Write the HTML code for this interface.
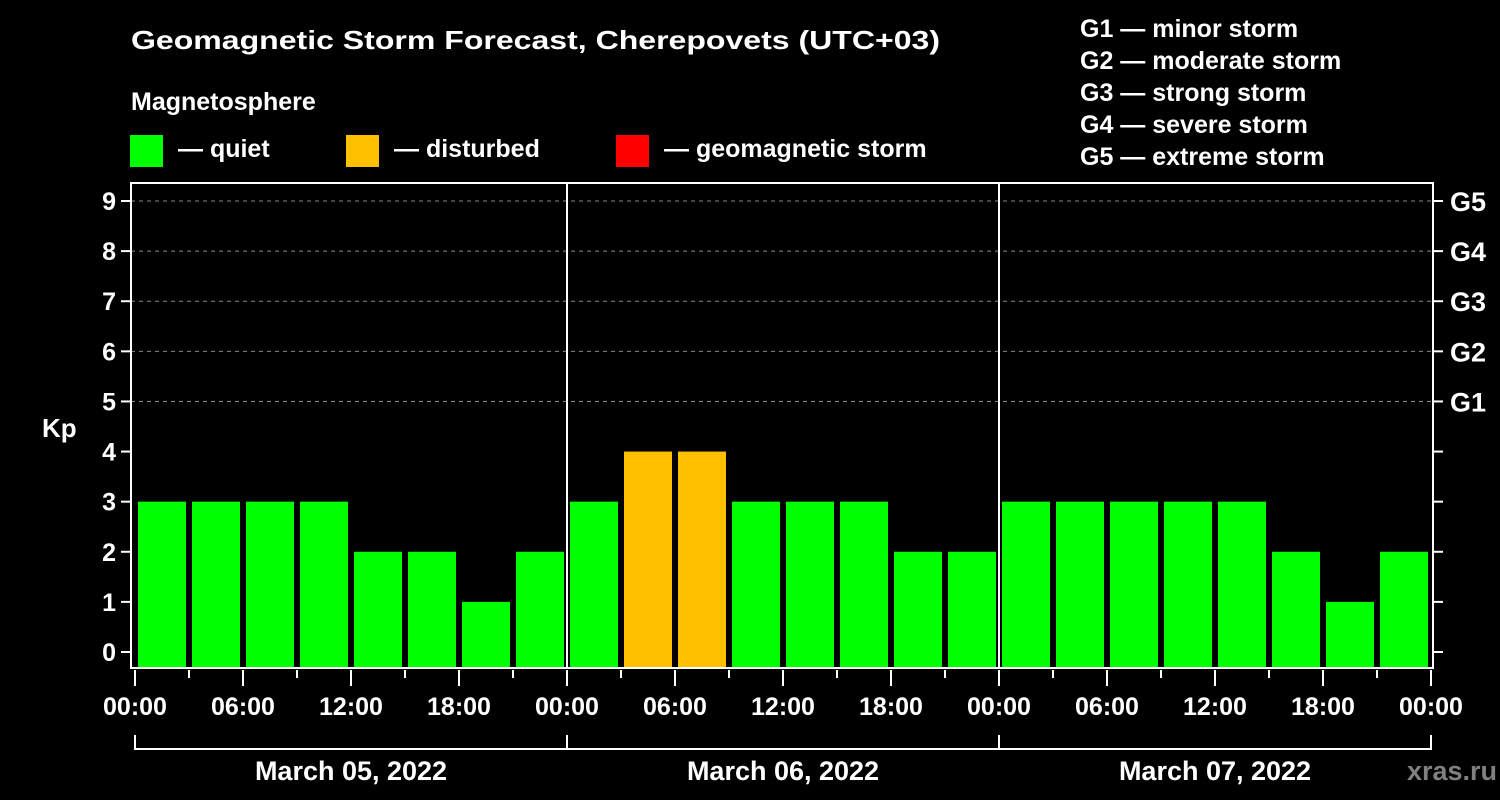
<!DOCTYPE html>
<html><head><meta charset="utf-8"><style>
html,body{margin:0;padding:0;background:#000;}
svg{display:block;font-family:"Liberation Sans",Arial,sans-serif;font-weight:bold;}
</style></head><body>
<svg id="chart" width="1500" height="800" xmlns="http://www.w3.org/2000/svg">
<rect width="1500" height="800" fill="#000"/>
<text x="131" y="49" fill="#fff" font-size="26" textLength="809" lengthAdjust="spacingAndGlyphs">Geomagnetic Storm Forecast, Cherepovets (UTC+03)</text>
<text x="131" y="110" fill="#fff" font-size="25">Magnetosphere</text>
<g><rect x="130" y="135" width="33" height="32" fill="#00ff00"/><text x="178" y="157" fill="#fff" font-size="25">— quiet</text></g>
<g><rect x="346" y="135" width="33" height="32" fill="#ffc000"/><text x="394" y="157" fill="#fff" font-size="25">— disturbed</text></g>
<g><rect x="616" y="135" width="33" height="32" fill="#ff0000"/><text x="664" y="157" fill="#fff" font-size="25">— geomagnetic storm</text></g>
<g fill="#fff" font-size="25">
<text x="1080" y="37">G1 — minor storm</text>
<text x="1080" y="69">G2 — moderate storm</text>
<text x="1080" y="101">G3 — strong storm</text>
<text x="1080" y="133">G4 — severe storm</text>
<text x="1080" y="165">G5 — extreme storm</text>
</g>
<g id="grid"></g>
<g id="bars"></g>
<g id="axes"></g>
<text x="42" y="437" fill="#fff" font-size="26">Kp</text>
<text x="1497" y="780" fill="#808080" font-size="27" text-anchor="end">xras.ru</text>
</svg>
<script>
const kpValues = [3,3,3,3,2,2,1,2, 3,4,4,3,3,3,2,2, 3,3,3,3,3,2,1,2];
const dayLabels = ["March 05, 2022","March 06, 2022","March 07, 2022"];
const hourLabels = ["00:00","06:00","12:00","18:00"];
const yTicks = [0,1,2,3,4,5,6,7,8,9];
const gLabels = ["G1","G2","G3","G4","G5"];

const NS="http://www.w3.org/2000/svg";
const X0=135, X1=1431, HOURS=72;
const L=131, R=1433, T=183, B=668;
const xs=h=>X0+(X1-X0)*h/HOURS;
const ys=k=>652-(652-201)*k/9;
function mk(tag,attrs,parent,text){const e=document.createElementNS(NS,tag);for(const k in attrs)e.setAttribute(k,attrs[k]);if(text!==undefined)e.textContent=text;parent.appendChild(e);return e;}
const grid=document.getElementById('grid'),bars=document.getElementById('bars'),axes=document.getElementById('axes');

yTicks.forEach(k=>{
  if(k>=5){const g=mk('line',{x1:L,x2:R,y1:ys(k),y2:ys(k),stroke:'#888','stroke-width':1,'stroke-dasharray':'4,4'},grid);
  
  }
  const t=mk('line',{x1:L-10,x2:L,y1:ys(k),y2:ys(k),stroke:'#fff','stroke-width':2},axes);
  
  
  const lb=mk('text',{x:L-15,y:ys(k)+9,fill:'#fff','font-size':25,'text-anchor':'end'},axes,String(k));
  
  
  const rt=mk('line',{x1:R,x2:R+10,y1:ys(k),y2:ys(k),stroke:'#fff','stroke-width':2},axes);
  
  
});
gLabels.forEach((g,i)=>{
  const t=mk('text',{x:1450,y:ys(i+5)+10,fill:'#fff','font-size':27},axes,g);
  
  
});

kpValues.forEach((v,i)=>{
  const col=v>=5?'#ff0000':(v>=4?'#ffc000':'#00ff00');
  const xa=xs(i*3)+3, xb=xs(i*3+3)-3;
  const b=mk('rect',{x:xa,y:ys(v),width:xb-xa,height:B-ys(v),fill:col},bars);
  
  
});

// frame
const fr=mk('rect',{x:L,y:T,width:R-L,height:B-T,fill:'none',stroke:'#fff','stroke-width':2},axes);


for(let d=1;d<dayLabels.length;d++){
  const l=mk('line',{x1:xs(d*24),x2:xs(d*24),y1:T,y2:B,stroke:'#fff','stroke-width':2},axes);
  
  
}
for(let h=0;h<=HOURS;h+=3){
  const major=h%6===0;
  const t=mk('line',{x1:xs(h),x2:xs(h),y1:B+2,y2:major?B+18:B+10,stroke:'#fff','stroke-width':2},axes);
  
  
  if(major){
    const lb=mk('text',{x:xs(h),y:715,fill:'#fff','font-size':25,'text-anchor':'middle'},axes,hourLabels[(h%24)/6]);
    
    
  }
}
dayLabels.forEach((d,i)=>{
  const a=xs(i*24),b=xs(i*24+24);
  const br=mk('path',{d:`M${a},735 V749 H${b} V735`,fill:'none',stroke:'#fff','stroke-width':2},axes);
  
  
  const t=mk('text',{x:(a+b)/2,y:780,fill:'#fff','font-size':27,'text-anchor':'middle'},axes,d);
  
  
});
</script>
</body></html>
